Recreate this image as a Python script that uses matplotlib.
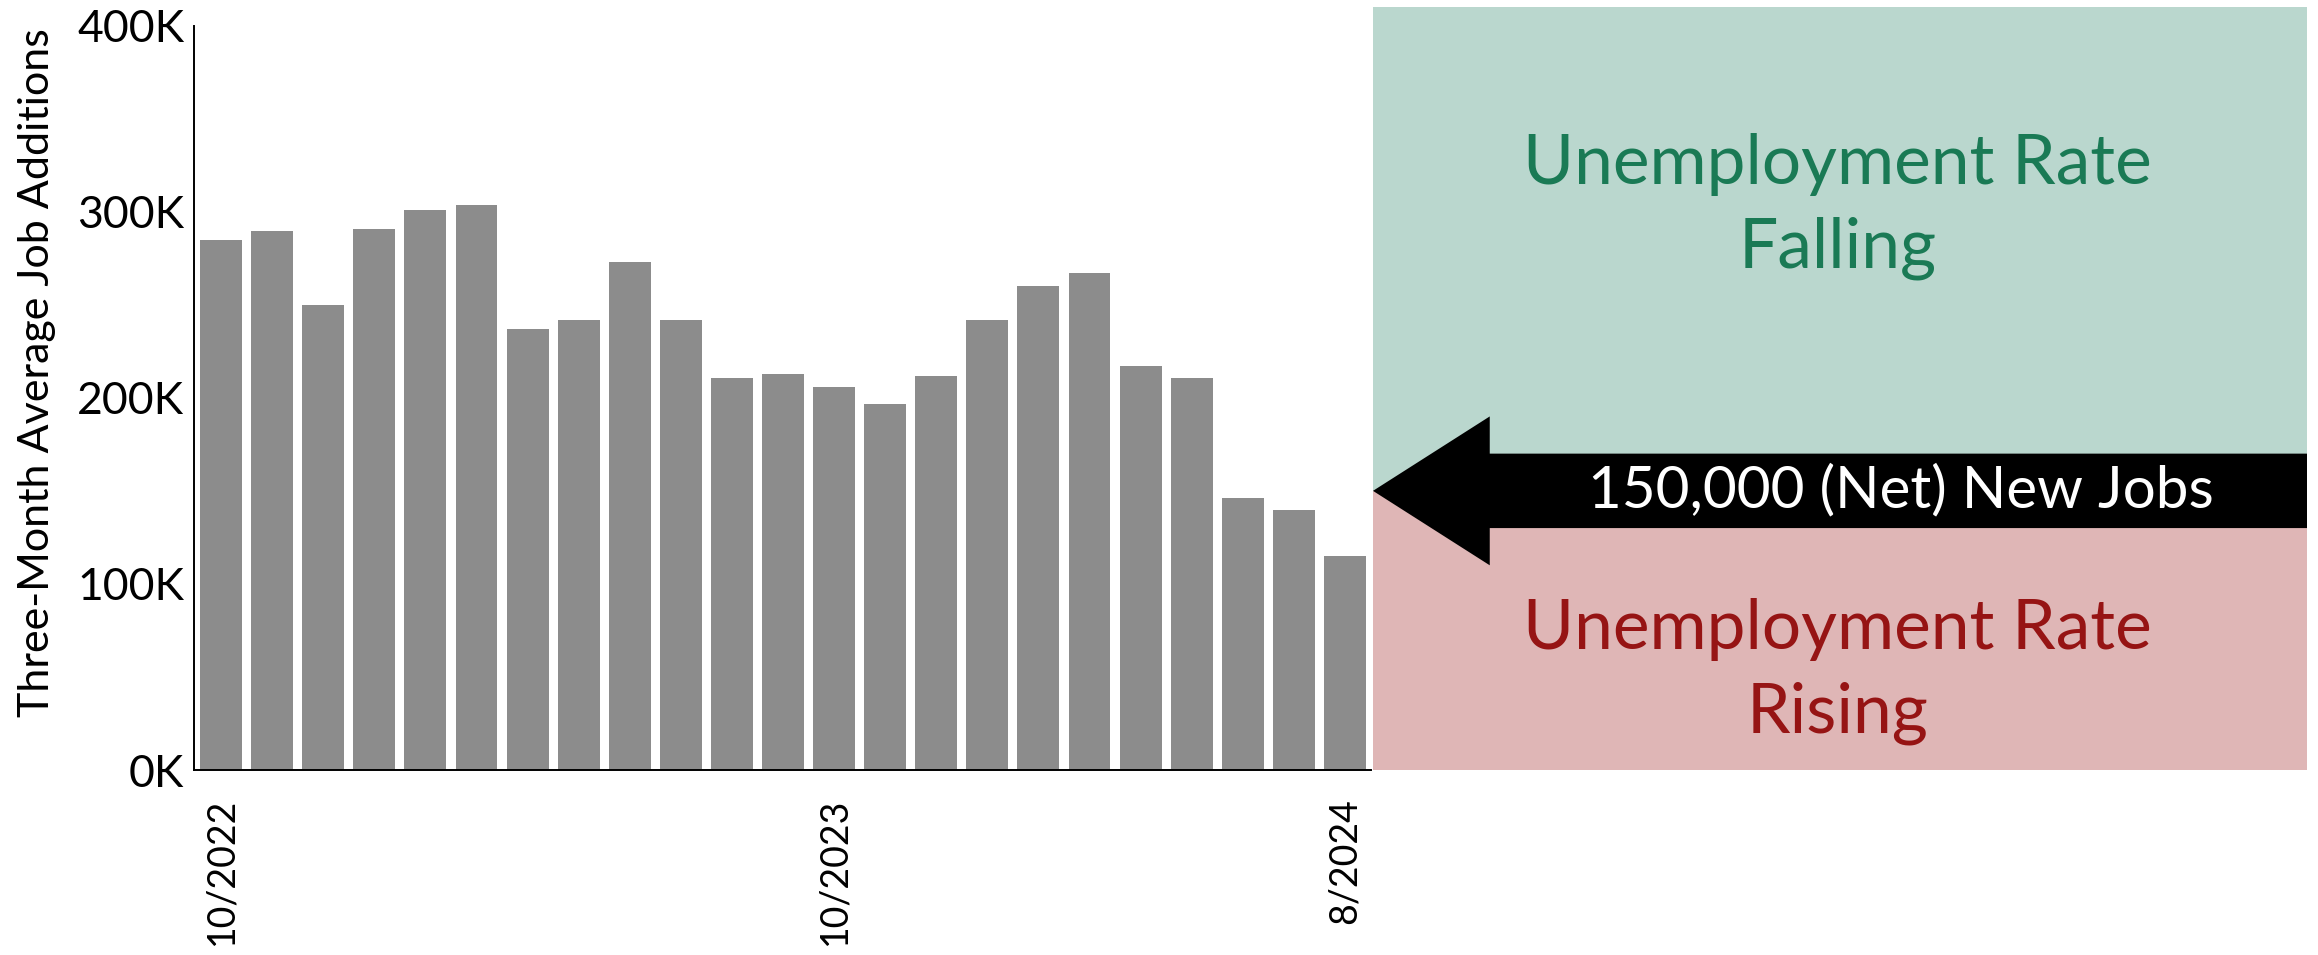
import matplotlib
matplotlib.use("Agg")
import matplotlib.pyplot as plt
from matplotlib.patches import Rectangle, Polygon

plt.rcParams['font.family'] = ['Lato', 'DejaVu Sans']

# three-month average of monthly payroll gains, thousands of jobs
months = ['10/2022', '11/2022', '12/2022', '1/2023', '2/2023', '3/2023',
          '4/2023', '5/2023', '6/2023', '7/2023', '8/2023', '9/2023',
          '10/2023', '11/2023', '12/2023', '1/2024', '2/2024', '3/2024',
          '4/2024', '5/2024', '6/2024', '7/2024', '8/2024']
job_adds = [285, 290, 250, 291, 301, 304, 237, 242, 273, 242, 211, 213,
            206, 197, 212, 242, 260, 267, 217, 211, 146, 140, 115]
shown_months = ['10/2022', '10/2023', '8/2024']
y_ticks = [0, 100, 200, 300, 400]
breakeven = 150  # thousands of net new jobs that keep unemployment flat

bar_color = '#8c8c8c'
green_fill = '#bad7ce'
red_fill = '#dfb6b6'
green_text = '#1a7a55'
red_text = '#961414'

fig = plt.figure(figsize=(23.18, 9.55), dpi=100)

ax = fig.add_axes([194 / 2318, 185 / 955, 1177 / 2318, 744 / 955])
x = list(range(len(months)))
ax.bar(x, job_adds, width=0.82, color=bar_color, linewidth=0)
ax.set_xlim(-0.53, len(months) - 1 + 0.51)
ax.set_ylim(0, 400)

ax.set_yticks(y_ticks)
ax.set_yticklabels([f'{v}K' for v in y_ticks])
ax.set_xticks([months.index(m) for m in shown_months])
ax.set_xticklabels(shown_months, rotation=90, va='top', ha='center')
ax.tick_params(axis='both', length=0)
ax.tick_params(axis='y', pad=7, labelsize=32)
ax.tick_params(axis='x', pad=20, labelsize=27)

for side in ['top', 'right']:
    ax.spines[side].set_visible(False)
for side in ['left', 'bottom']:
    ax.spines[side].set_linewidth(1.4)
    ax.spines[side].set_color('black')

fig.text(37 / 2318, 1 - 373 / 955, 'Three-Month Average Job Additions',
         rotation=90, ha='center', va='center', fontsize=31)

# side panel: above / below the break-even pace
pax = fig.add_axes([1373 / 2318, 185 / 955, 934 / 2318, 763 / 955])
pax.set_xlim(0, 1)
pax.set_ylim(0, 410)
pax.axis('off')

pax.add_patch(Rectangle((0, breakeven), 1, 410 - breakeven,
                        facecolor=green_fill, edgecolor='none'))
pax.add_patch(Rectangle((0, 0), 1, breakeven,
                        facecolor=red_fill, edgecolor='none'))

head_len = 0.125
head_half = 40
shaft_half = 20
arrow = Polygon([
    (0, breakeven),
    (head_len, breakeven + head_half),
    (head_len, breakeven + shaft_half),
    (1, breakeven + shaft_half),
    (1, breakeven - shaft_half),
    (head_len, breakeven - shaft_half),
    (head_len, breakeven - head_half),
], closed=True, facecolor='black', edgecolor='none')
pax.add_patch(arrow)

pax.text(0.565, breakeven, f'{breakeven * 1000:,} (Net) New Jobs',
         color='white', fontsize=42, ha='center', va='center')
pax.text(0.497, 303, 'Unemployment Rate\nFalling', color=green_text,
         fontsize=50, ha='center', va='center', linespacing=1.4)
pax.text(0.497, 53, 'Unemployment Rate\nRising', color=red_text,
         fontsize=50, ha='center', va='center', linespacing=1.4)

fig.savefig('out.png', dpi=100)
